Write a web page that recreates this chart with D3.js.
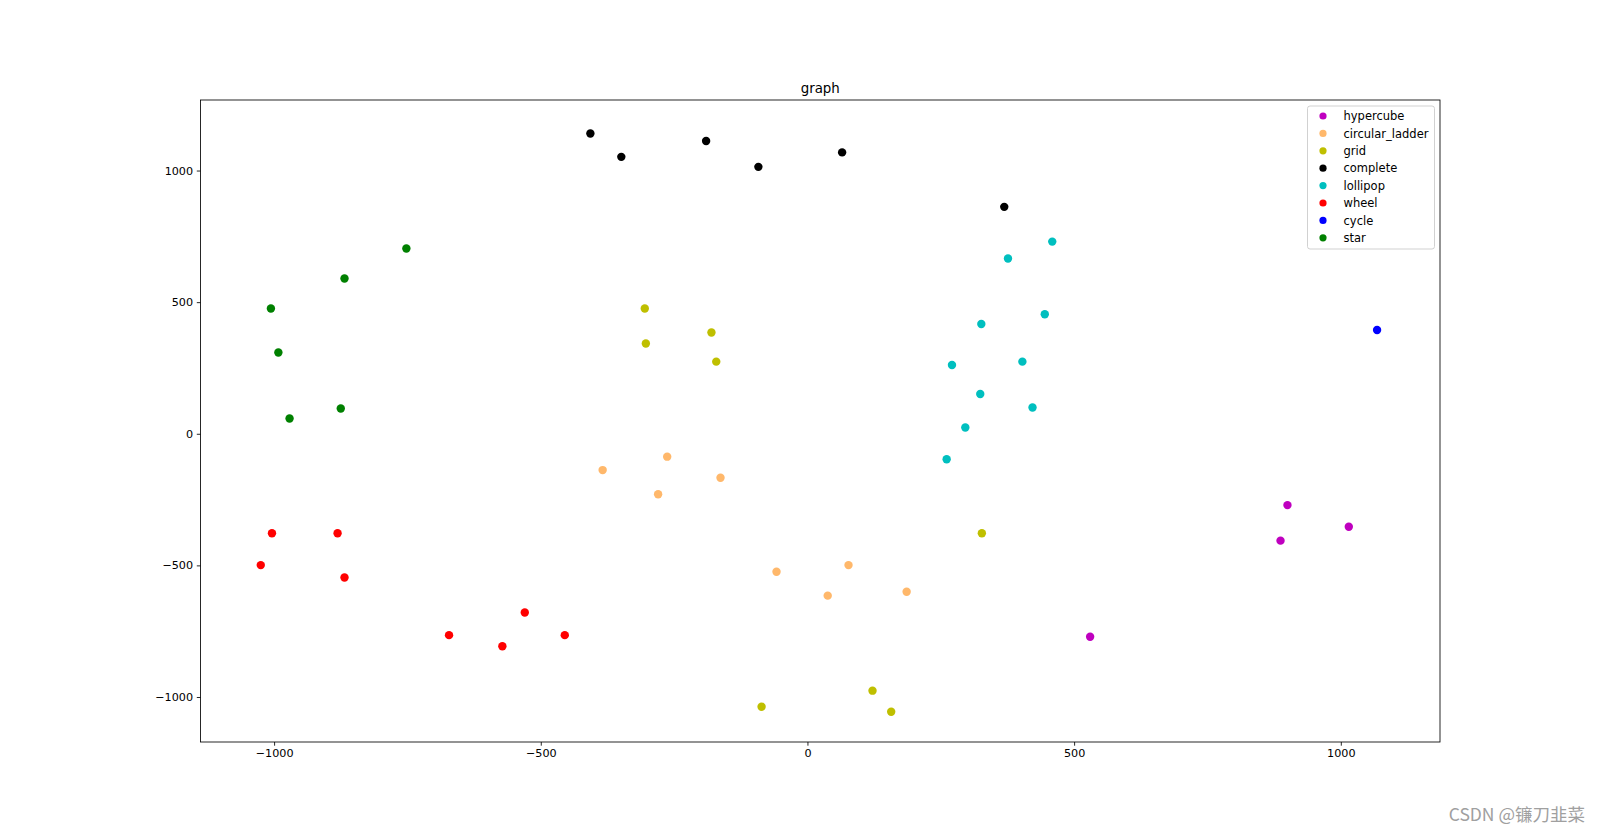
<!DOCTYPE html>
<html>
<head>
<meta charset="utf-8">
<script src="https://cdn.jsdelivr.net/npm/d3@7"></script>
<style>
  html, body { margin: 0; padding: 0; background: #fff; }
  svg { display: block; font-family: "DejaVu Sans", sans-serif; }
</style>
</head>
<body>
<svg id="chart" width="1600" height="834"></svg>
<script>
// ---- data ----
const categories = ["hypercube", "circular_ladder", "grid", "complete", "lollipop", "wheel", "cycle", "star"];
const hypercubeX = [900, 1015, 887, 530];
const hypercubeY = [-271, -353, -406, -771];
const circularLadderX = [-384, -263, -280, -163, -58, 77, 38, 186];
const circularLadderY = [-138, -87, -230, -167, -524, -499, -615, -600];
const gridX = [-305, -303, -180, -171, 327, -86, 122, 157];
const gridY = [476, 343, 385, 274, -378, -1037, -976, -1056];
const completeX = [-407, -349, -190, -92, 65, 369];
const completeY = [1141, 1052, 1112, 1014, 1069, 862];
const lollipopX = [459, 376, 326, 445, 271, 403, 324, 422, 296, 261];
const lollipopY = [730, 666, 417, 454, 261, 274, 151, 100, 24, -97];
const wheelX = [-1004, -881, -1025, -868, -530, -672, -572, -455];
const wheelY = [-378, -378, -499, -546, -679, -765, -807, -765];
const cycleX = [1068];
const cycleY = [394];
const starX = [-752, -868, -1006, -992, -971, -875];
const starY = [704, 590, 476, 309, 58, 96];
const xTicks = [-1000, -500, 0, 500, 1000];
const yTicks = [-1000, -500, 0, 500, 1000];
const xDomain = [-1138, 1186];
const yDomain = [-1171, 1268];
const title = "graph";
const watermark = "CSDN @镰刀韭菜";

// ---- styles ----
const palette = ["#bf00bf", "#ffb86b", "#bfbf00", "#000000", "#00bfbf", "#ff0000", "#0000ff", "#008000"];

const seriesX = [hypercubeX, circularLadderX, gridX, completeX, lollipopX, wheelX, cycleX, starX];
const seriesY = [hypercubeY, circularLadderY, gridY, completeY, lollipopY, wheelY, cycleY, starY];
const series = categories.map((name, i) => ({
  name, color: palette[i],
  points: seriesX[i].map((x, j) => ({ x, y: seriesY[i][j] }))
}));

const svg = d3.select("#chart");
const L = 200.5, R = 1440, T = 100, B = 742;
const x = d3.scaleLinear().domain(xDomain).range([L, R]);
const y = d3.scaleLinear().domain(yDomain).range([B, T]);
const fmt = d3.format("d");

svg.append("rect").attr("width", 1600).attr("height", 834).attr("fill", "#fff");

// axes
const xAxis = svg.append("g").attr("transform", `translate(0,${B})`)
  .call(d3.axisBottom(x).tickValues(xTicks).tickFormat(fmt).tickSize(3.7).tickSizeOuter(0).tickPadding(3.7));
const yAxis = svg.append("g").attr("transform", `translate(${L},0)`)
  .call(d3.axisLeft(y).tickValues(yTicks).tickFormat(fmt).tickSize(3.7).tickSizeOuter(0).tickPadding(3.7));
[xAxis, yAxis].forEach(g => {
  g.select(".domain").remove();
  g.selectAll("text").attr("font-family", "DejaVu Sans").attr("font-size", "11.2px").attr("fill", "#000");
  g.selectAll("line").attr("stroke", "#000").attr("stroke-width", 0.85);
});

// points
series.forEach(s => {
  svg.append("g").selectAll("circle").data(s.points).join("circle")
    .attr("cx", d => x(d.x)).attr("cy", d => y(d.y)).attr("r", 4.2)
    .attr("fill", s.color);
});

// frame
svg.append("rect").attr("x", L).attr("y", T).attr("width", R - L).attr("height", B - T)
  .attr("fill", "none").attr("stroke", "#000").attr("stroke-width", 0.85);

// title
svg.append("text").attr("x", (L + R) / 2).attr("y", T - 7.2).attr("text-anchor", "middle")
  .attr("font-size", "13.4px").attr("fill", "#000").text(title);

// legend
const lg = svg.append("g");
lg.append("rect").attr("x", 1307.5).attr("y", 106).attr("width", 127).attr("height", 143)
  .attr("rx", 2.5).attr("fill", "#fff").attr("fill-opacity", 0.8)
  .attr("stroke", "#cccccc").attr("stroke-width", 0.9);
const rowY = d3.scaleLinear().domain([0, categories.length - 1]).range([116, 237.8]);
series.forEach((s, i) => {
  lg.append("circle").attr("cx", 1323).attr("cy", rowY(i)).attr("r", 3.6).attr("fill", s.color);
  lg.append("text").attr("x", 1343.5).attr("y", rowY(i)).attr("dy", "0.36em")
    .attr("font-size", "11.5px").attr("fill", "#000").text(s.name);
});

// watermark
svg.append("text").attr("x", 1585).attr("y", 821).attr("text-anchor", "end")
  .attr("font-family", "Noto Sans CJK SC, sans-serif").attr("font-size", "17.5px")
  .attr("fill", "#a0a0a0").text(watermark);
</script>
</body>
</html>
